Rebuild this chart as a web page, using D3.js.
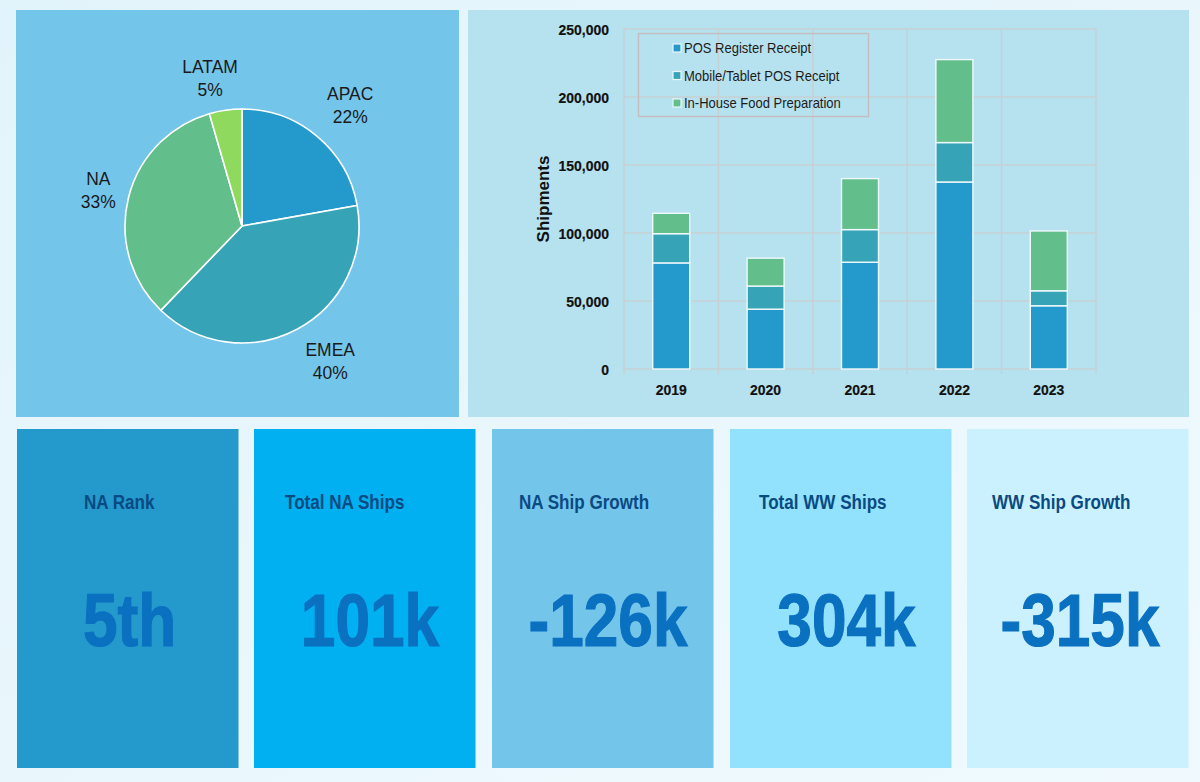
<!DOCTYPE html>
<html><head><meta charset="utf-8">
<script src="https://cdn.jsdelivr.net/npm/d3@7/dist/d3.min.js"></script>
<style>html,body{margin:0;padding:0;background:#e8f6fc;overflow:hidden}svg{display:block}text{font-family:"Liberation Sans",Arial,sans-serif}</style>
</head><body><svg id="c" width="1200" height="782"></svg>
<script>
const regions=["APAC","EMEA","NA","LATAM"];
const regionShares=[22.2,40,33.3,4.5];
const regionLabels=["22%","40%","33%","5%"];
const regionColors=["#2399cc","#36a4b6","#62bf8b","#8fd95f"];
const years=["2019","2020","2021","2022","2023"];
const seriesNames=["POS Register Receipt","Mobile/Tablet POS Receipt","In-House Food Preparation"];
const posRegister=[78000,44000,78500,137500,46500];
const mobileTablet=[21500,17000,24000,29000,11000];
const inHouseFood=[15000,20500,37500,61000,44000];
const seriesColors=["#2399cc","#36a4b6","#62bf8b"];
const yTicks=[0,50000,100000,150000,200000,250000];
const kpiTitles=["NA Rank","Total NA Ships","NA Ship Growth","Total WW Ships","WW Ship Growth"];
const kpiValues=["5th","101k","-126k","304k","-315k"];
const kpiColors=["#2399cc","#00b0f0","#74c5ea","#92e2fe","#ccf1fe"];

const svg=d3.select("#c");
const defs=svg.append("defs");
const g=defs.append("linearGradient").attr("id","bg").attr("x1",0).attr("y1",0).attr("x2",1).attr("y2",1);
g.append("stop").attr("offset",0).attr("stop-color","#e2f4fb");
g.append("stop").attr("offset",1).attr("stop-color","#f0fafe");
svg.append("rect").attr("width",1200).attr("height",782).attr("fill","url(#bg)");

// panels
svg.append("rect").attr("x",16).attr("y",10).attr("width",443).attr("height",407).attr("fill","#74c5ea");
svg.append("rect").attr("x",468).attr("y",10).attr("width",721).attr("height",407).attr("fill","#b6e1ee");

// pie
const cx=242,cy=226,R=117;
const pie=d3.pie().sort(null).value(d=>d)(regionShares);
const arc=d3.arc().innerRadius(0).outerRadius(R);
const pg=svg.append("g").attr("transform",`translate(${cx},${cy})`);
pg.selectAll("path").data(pie).join("path").attr("d",arc)
  .attr("fill",(d,i)=>regionColors[i]).attr("stroke","#fff").attr("stroke-width",1.6);
const labelRadii=[1.28,1.22,1.3,1.27];
const labelNudge=[[12,-7],[21,8],[4,-1],[-11,-2]];
pie.forEach((d,i)=>{
  const r=R*labelRadii[i];
  const a=(d.startAngle+d.endAngle)/2;
  const x=r*Math.sin(a)+labelNudge[i][0],y=-r*Math.cos(a)+labelNudge[i][1];
  const t=pg.append("text").attr("text-anchor","middle").attr("fill","#1a1a1a").attr("font-size",19)
    .attr("transform",`translate(${x},${y}) scale(0.92,1)`);
  t.append("tspan").attr("x",0).attr("y",-4).text(regions[i]);
  t.append("tspan").attr("x",0).attr("y",19).text(regionLabels[i]);
});

// bar chart
const xOuter=d3.scaleBand().domain(years).range([624,1096]);
const y=d3.scaleLinear().domain([0,250000]).range([369,29]);
const grid="#c6d0d4";
const cg=svg.append("g");
cg.selectAll(".h").data(yTicks).join("line").attr("x1",624).attr("x2",1096)
  .attr("y1",d=>y(d)).attr("y2",d=>y(d)).attr("stroke",grid).attr("stroke-width",1.4);
const bounds=years.map(d=>xOuter(d)).concat([1096]);
cg.selectAll(".v").data(bounds).join("line").attr("x1",d=>d).attr("x2",d=>d)
  .attr("y1",29).attr("y2",374).attr("stroke",grid).attr("stroke-width",1.4);
const stackData=years.map((yr,i)=>({yr,a:posRegister[i],b:mobileTablet[i],c:inHouseFood[i]}));
const stack=d3.stack().keys(["a","b","c"])(stackData);
stack.forEach((s,k)=>{
  cg.selectAll(".b"+k).data(s).join("rect")
    .attr("x",d=>xOuter(d.data.yr)+xOuter.bandwidth()/2-18.5)
    .attr("width",37)
    .attr("y",d=>y(d[1])).attr("height",d=>y(d[0])-y(d[1]))
    .attr("fill",seriesColors[k]).attr("stroke","#eef9fc").attr("stroke-width",1.4);
});
const lab=svg.append("g");
lab.selectAll("text.y").data(yTicks).join("text")
  .attr("transform",d=>`translate(609,${y(d)+5.5}) scale(0.9,1)`)
  .attr("text-anchor","end").attr("font-size",15.5).attr("font-weight",700).attr("fill","#111")
  .attr("stroke","#111").attr("stroke-width",0.2)
  .text(d=>d3.format(",")(d));
lab.selectAll("text.x").data(years)
  .join("text").attr("transform",d=>`translate(${xOuter(d)+xOuter.bandwidth()/2},395) scale(0.9,1)`)
  .attr("text-anchor","middle").attr("font-size",15.5).attr("font-weight",700).attr("fill","#111")
  .attr("stroke","#111").attr("stroke-width",0.2).text(d=>d);
lab.append("text").attr("transform","translate(549,199) rotate(-90)").attr("text-anchor","middle")
  .attr("font-size",17).attr("font-weight",700).attr("fill","#111").text("Shipments");

// legend
svg.append("rect").attr("x",638.5).attr("y",33.5).attr("width",230).attr("height",83)
  .attr("fill","none").attr("stroke","#c4bcbe").attr("stroke-width",1.4);
seriesNames.forEach((n,i)=>{
  const ly=48+i*27.5;
  svg.append("rect").attr("x",673).attr("y",ly-4).attr("width",8).attr("height",8)
    .attr("fill",seriesColors[i]).attr("stroke","#e8f7fb").attr("stroke-width",1.2);
  svg.append("text").attr("transform",`translate(684,${ly+5}) scale(0.93,1)`).attr("font-size",14).attr("fill","#1c1c1c").text(n);
});

// KPI cards
const cardX=[17,254,492,730,967];
const titleX=[84,285,519,759,992];
const valueCx=[129.5,370,608,846.5,1080];
kpiTitles.forEach((t,i)=>{
  svg.append("rect").attr("x",cardX[i]).attr("y",429).attr("width",221.5).attr("height",339).attr("fill",kpiColors[i]);
  svg.append("text").attr("font-size",19.5).attr("font-weight",700).attr("fill","#0a4a82")
    .attr("transform",`translate(${titleX[i]},509) scale(0.875,1)`).text(t);
  svg.append("text").attr("text-anchor","middle").attr("font-size",74).attr("font-weight",700).attr("fill","#0a70c0")
    .attr("stroke","#0a70c0").attr("stroke-width",1.2)
    .attr("transform",`translate(${valueCx[i]},646) scale(0.84,1)`).text(kpiValues[i]);
});
</script></body></html>
